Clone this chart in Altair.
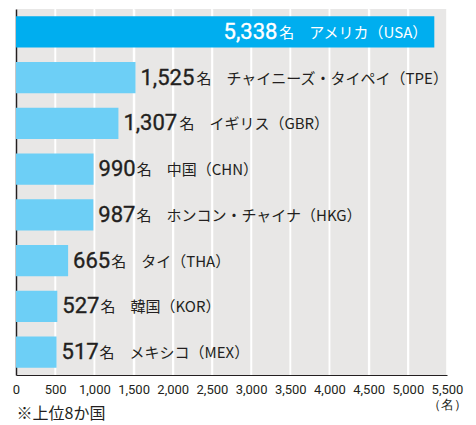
import altair as alt
import pandas as pd

# ---- data ----
names = ["アメリカ", "チャイニーズ・タイペイ", "イギリス", "中国",
         "ホンコン・チャイナ", "タイ", "韓国", "メキシコ"]
codes = ["USA", "TPE", "GBR", "CHN", "HKG", "THA", "KOR", "MEX"]
values = [5338, 1525, 1307, 990, 987, 665, 527, 517]
x_ticks = list(range(0, 5501, 500))

df = pd.DataFrame({"name": names, "code": codes, "value": values})
ticks_df = pd.DataFrame({"tick": x_ticks})

# ---- layout / style constants ----
W, H = 431, 366
XMAX = 5500
K = XMAX / W  # data units per pixel
NUM_FS = 22
REST_FS = 15
DIGIT_W = 0.562 * NUM_FS
COMMA_W = 0.25 * NUM_FS
GAP = 5
INSIDE_PAD = 7
DARK = "#231F20"
HL = "#00AEEF"
BASE = "#6DCFF6"
BG = "#E8E7E6"
NUM_FONT = "Roboto"
JP_FONT = "Noto Sans CJK JP"

order = names

base = alt.Chart(df).transform_calculate(
    num="format(datum.value, ',')",
    commas="datum.value >= 1000 ? 1 : 0",
    numw=f"(length(datum.num) - datum.commas) * {DIGIT_W} + datum.commas * {COMMA_W}",
    rest="'名　' + datum.name + '（' + datum.code + '）'",
    restw=f"(length(datum.name) + 4) * {REST_FS} + length(datum.code) * {0.62 * REST_FS}",
    rest_x=f"datum.value + ({GAP} + datum.numw + 1) * {K}",
    num_in_x=f"datum.value - ({INSIDE_PAD} + datum.restw + 2) * {K}",
)

y_axis = alt.Axis(labels=False, ticks=False, title=None,
                  domain=True, domainColor=DARK, domainWidth=1.5, grid=False)
y_enc = alt.Y("name:N", sort=order,
              scale=alt.Scale(paddingInner=0.32, paddingOuter=0.16),
              axis=y_axis)

x_scale = alt.Scale(domain=[0, XMAX], nice=False)
x_axis = alt.Axis(values=x_ticks, ticks=False,
                  grid=True, gridColor="white", gridWidth=1.5, gridOpacity=1,
                  domainColor=DARK, domainWidth=1,
                  labelFont=NUM_FONT, labelFontSize=13,
                  labelColor=DARK, labelPadding=8, labelFlush=False,
                  labelBaseline="top", labelLineHeight=15,
                  labelExpr="datum.value == 5500 ? [format(datum.value, ','), '（名）'] : format(datum.value, ',')",
                  title="※上位8か国", titleFont=JP_FONT,
                  titleFontSize=16, titleFontWeight="normal",
                  titleColor=DARK, titleAnchor="start",
                  titleAlign="left", titleBaseline="middle",
                  titleX=0, titleY=38)


def xq(field):
    return alt.X(f"{field}:Q", scale=x_scale, axis=x_axis)


grid = alt.Chart(ticks_df).transform_filter("datum.tick > 0").mark_rule(
    color="#FFFFFF", strokeWidth=1.5, opacity=1
).encode(x=xq("tick"))

bars = base.mark_bar().encode(
    x=xq("value"),
    y=y_enc,
    color=alt.condition(alt.datum.code == "USA", alt.value(HL), alt.value(BASE)),
)

num_out = base.transform_filter("datum.code != 'USA'").mark_text(
    align="left", baseline="middle", dx=GAP, font=NUM_FONT,
    fontSize=NUM_FS, fontWeight="normal", color=DARK,
    stroke=DARK, strokeWidth=0.35
).encode(x=xq("value"), y=y_enc, text="num:N")

rest_out = base.transform_filter("datum.code != 'USA'").mark_text(
    align="left", baseline="middle", font=JP_FONT,
    fontSize=REST_FS, color=DARK, dy=1
).encode(x=xq("rest_x"), y=y_enc, text="rest:N")

rest_in = base.transform_filter("datum.code == 'USA'").mark_text(
    align="right", baseline="middle", dx=-INSIDE_PAD, font=JP_FONT,
    fontSize=REST_FS, color="white", dy=1
).encode(x=xq("value"), y=y_enc, text="rest:N")

num_in = base.transform_filter("datum.code == 'USA'").mark_text(
    align="right", baseline="middle", font=NUM_FONT,
    fontSize=NUM_FS, fontWeight="normal", color="white",
    stroke="white", strokeWidth=0.35
).encode(x=xq("num_in_x"), y=y_enc, text="num:N")

chart = alt.layer(grid, bars, num_out, rest_out, rest_in, num_in).properties(
    width=W, height=H,
    padding={"left": 4, "top": 0, "right": 0, "bottom": 2},
    background="white",
).configure_view(fill=BG, stroke=None)

chart.save("out.html", embed_options={"renderer": "svg", "actions": False})
